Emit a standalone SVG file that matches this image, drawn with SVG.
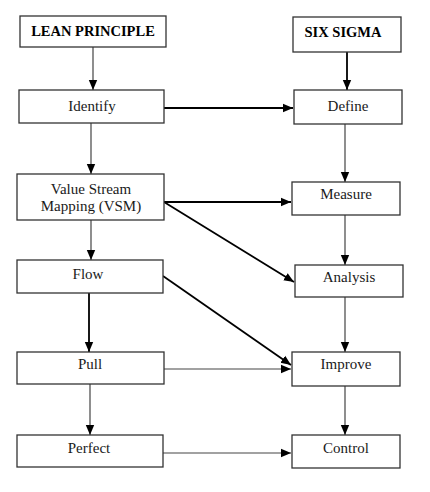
<svg xmlns="http://www.w3.org/2000/svg" width="430" height="492" viewBox="0 0 430 492">
<style>
.box{fill:#fff;stroke:#333;stroke-width:1.3}
.t{font-family:"Liberation Serif","Times New Roman",serif;font-size:15px;fill:#1a1a1a;text-anchor:middle}
.h{font-family:"Liberation Serif","Times New Roman",serif;font-size:14.5px;font-weight:bold;fill:#000;text-anchor:middle}
.c{fill:none;stroke:#444;stroke-width:1.2}
.k{fill:none;stroke:#000;stroke-width:1.8}
</style>
<defs>
<marker id="ah" markerUnits="userSpaceOnUse" markerWidth="10" markerHeight="10" viewBox="0 0 10 10" refX="10" refY="5" orient="auto">
<path d="M0,0.8 L10,5 L0,9.2 Z" fill="#000"/>
</marker>
</defs>
<rect width="430" height="492" fill="#fff"/>
<g id="connectors">
<line class="c" x1="93" y1="47" x2="93" y2="90" marker-end="url(#ah)"/>
<line class="k" x1="347" y1="52" x2="347" y2="90" marker-end="url(#ah)"/>
<line class="k" x1="164" y1="108" x2="293" y2="108" marker-end="url(#ah)"/>
<line class="c" x1="91" y1="123" x2="91" y2="174" marker-end="url(#ah)"/>
<line class="c" x1="345" y1="124" x2="345" y2="182" marker-end="url(#ah)"/>
<line class="k" x1="164" y1="202" x2="291" y2="202" marker-end="url(#ah)"/>
<line class="k" x1="164" y1="202" x2="294" y2="282" marker-end="url(#ah)"/>
<line class="c" x1="91" y1="220" x2="91" y2="260" marker-end="url(#ah)"/>
<line class="c" x1="345" y1="215" x2="345" y2="265" marker-end="url(#ah)"/>
<line class="k" x1="163" y1="276" x2="291" y2="365" marker-end="url(#ah)"/>
<line class="k" x1="89" y1="293" x2="89" y2="352" marker-end="url(#ah)"/>
<line class="c" x1="345" y1="297" x2="345" y2="352" marker-end="url(#ah)"/>
<line class="c" x1="164" y1="369" x2="291" y2="369" marker-end="url(#ah)"/>
<line class="c" x1="90" y1="384" x2="90" y2="435" marker-end="url(#ah)"/>
<line class="c" x1="345" y1="386" x2="345" y2="435" marker-end="url(#ah)"/>
<line class="c" x1="163" y1="453" x2="291" y2="453" marker-end="url(#ah)"/>
</g>
<g id="lean"><rect class="box" x="20" y="16" width="146" height="31"/><text class="h" x="93" y="36">LEAN PRINCIPLE</text></g>
<g id="six"><rect class="box" x="293" y="17" width="108" height="35"/><text class="h" x="343" y="37">SIX SIGMA</text></g>
<g id="identify"><rect class="box" x="19" y="90" width="145" height="33"/><text class="t" x="92" y="111">Identify</text></g>
<g id="define"><rect class="box" x="294" y="90" width="108" height="34"/><text class="t" x="348" y="111">Define</text></g>
<g id="vsm"><rect class="box" x="17" y="174" width="147" height="46"/><text class="t" x="91" y="194">Value Stream</text><text class="t" x="91" y="211">Mapping (VSM)</text></g>
<g id="measure"><rect class="box" x="292" y="182" width="108" height="33"/><text class="t" x="346" y="199">Measure</text></g>
<g id="flow"><rect class="box" x="17" y="260" width="146" height="33"/><text class="t" x="88" y="279">Flow</text></g>
<g id="analysis"><rect class="box" x="295" y="265" width="108" height="32"/><text class="t" x="349" y="282">Analysis</text></g>
<g id="pull"><rect class="box" x="17" y="352" width="147" height="32"/><text class="t" x="90" y="369">Pull</text></g>
<g id="improve"><rect class="box" x="292" y="352" width="108" height="34"/><text class="t" x="346" y="369">Improve</text></g>
<g id="perfect"><rect class="box" x="17" y="435" width="146" height="32"/><text class="t" x="89" y="453">Perfect</text></g>
<g id="control"><rect class="box" x="292" y="435" width="108" height="33"/><text class="t" x="346" y="453">Control</text></g>
</svg>
